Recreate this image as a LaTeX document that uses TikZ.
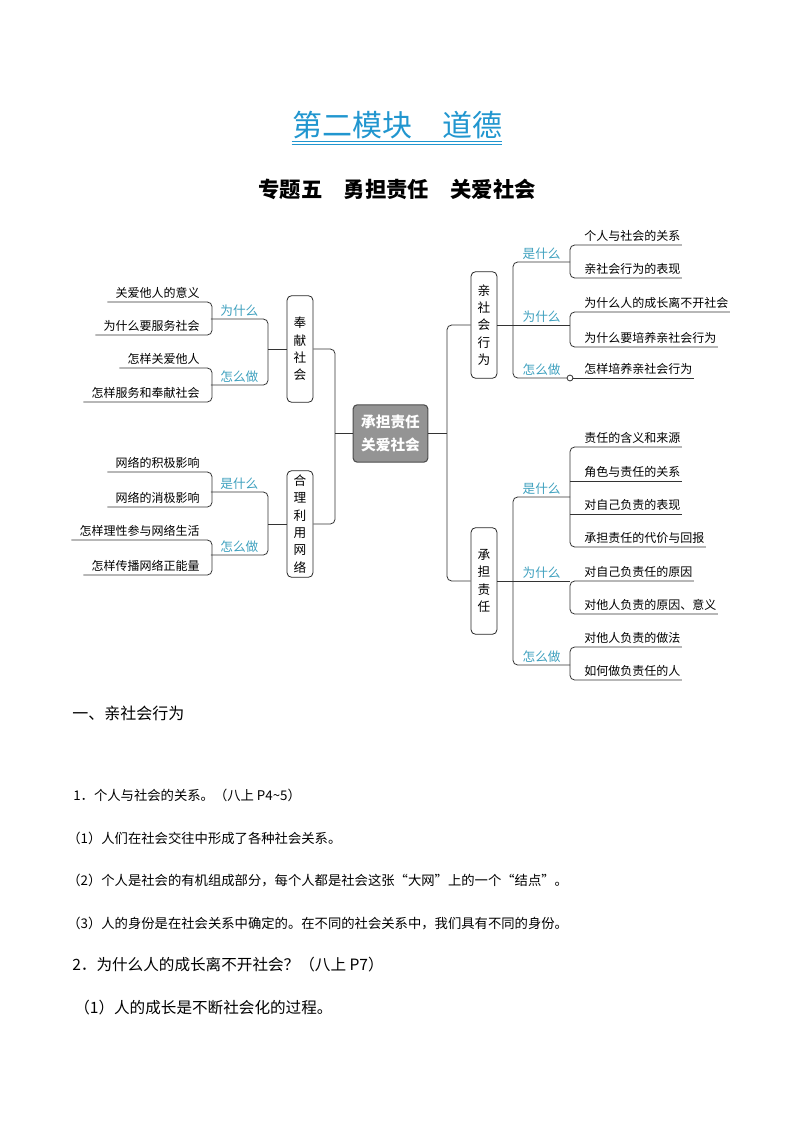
\documentclass[tikz,border=0pt]{standalone}
\usepackage{fontspec}
\setmainfont{Noto Sans CJK SC}

\definecolor{tcyan}{RGB}{33,150,207}
\definecolor{qcyan}{RGB}{62,160,190}
\definecolor{hubgray}{RGB}{148,148,148}

% underlined leaf texts, the underline runs on to the bracket
\newcommand\rleaf[1]{\hspace*{9.5pt}#1}
\newcommand\lleaf[1]{\hspace*{5pt}#1\hspace*{8pt}}

\begin{document}
\begin{tikzpicture}[x=0.75pt,y=-0.75pt,
    hub/.style={draw=black!70, fill=hubgray, rounded corners=3pt, line width=0.8pt,
        text=white, align=center, font=\fontsize{11}{17}\selectfont\bfseries,
        minimum width=56pt, minimum height=43pt},
    topic/.style={draw=black!85, rounded corners=3.5pt, line width=0.6pt, align=center,
        font=\fontsize{9.5}{13}\selectfont, minimum width=19.5pt, minimum height=80pt,
        inner sep=1pt},
    ask/.style={text=qcyan, font=\fontsize{9.5}{11}\selectfont, inner xsep=0pt,
        inner ysep=2pt, minimum width=42.5pt},
    leaf/.style={font=\fontsize{9}{11}\selectfont, inner xsep=1pt, inner ysep=2.5pt},
    wire/.style={draw=black!80, line width=0.6pt, rounded corners=3.5pt},
    body/.style={anchor=west, inner sep=0pt}]

    \useasboundingbox (0,0) rectangle (794,1123);

    % nadpisy
    \node[text=tcyan, font=\fontsize{22.5}{24}\selectfont, inner sep=0pt] (title) at (397,125) {第二模块　道德};
    \draw[tcyan, line width=0.6pt] ([yshift=-3.8pt]title.base west) -- ([yshift=-3.8pt]title.base east);
    \draw[tcyan, line width=0.6pt] ([yshift=-6pt]title.base west) -- ([yshift=-6pt]title.base east);
    \node[font=\fontsize{16}{18}\selectfont\bfseries] (sub) at (397,189) {专题五　勇担责任　关爱社会};

    % střed
    \node[hub] (hub) at (390.5,433.5) {承担责任\\关爱社会};
    \coordinate (jl) at (335,433.5);
    \coordinate (jr) at (447,433.5);

    % čtyři témata
    \node[topic] (fx) at (300,349) {奉\\献\\社\\会};
    \node[topic] (hw) at (300,524) {合\\理\\利\\用\\网\\络};
    \node[topic] (qs) at (484,325) {亲\\社\\会\\行\\为};
    \node[topic] (cd) at (484,581) {承\\担\\责\\任};

    \draw[wire] (fx.east) -| (jl) |- (hw.east);
    \draw[wire] (jl) -- (hub.west);
    \draw[wire] (qs.west) -| (jr) |- (cd.west);
    \draw[wire] (hub.east) -- (jr);

    % vpravo nahoře
    \node[ask, anchor=south west] (qw1) at (513,262) {是什么};
    \node[ask, anchor=south west] (qw2) at (513,325) {为什么};
    \node[ask, anchor=south west] (qw3) at (513,378) {怎么做};
    \draw[wire] (qw1.south east) -- (qw1.south west) -- (qw3.south west) -- (qw3.south east);
    \draw[wire] (qs.east) -- (qw2.south east);

    \node[leaf, anchor=south west] (a1) at (570,245) {\rleaf{个人与社会的关系}};
    \node[leaf, anchor=south west] (a2) at (570,278) {\rleaf{亲社会行为的表现}};
    \node[leaf, anchor=south west] (a3) at (570,312) {\rleaf{为什么人的成长离不开社会}};
    \node[leaf, anchor=south west] (a4) at (570,347) {\rleaf{为什么要培养亲社会行为}};
    \node[leaf, anchor=south west] (a5) at (570,378) {\rleaf{怎样培养亲社会行为}};
    \draw[wire] (a1.south east) -- (a1.south west) -- (a2.south west) -- (a2.south east);
    \draw[wire] (a3.south east) -- (a3.south west) -- (a4.south west) -- (a4.south east);
    \draw[wire] (a5.south west) -- (a5.south east);
    \draw[wire, fill=white] (a5.south west) circle (2.2pt);

    % vpravo dole
    \node[ask, anchor=south west] (qw4) at (513,497) {是什么};
    \node[ask, anchor=south west] (qw5) at (513,581) {为什么};
    \node[ask, anchor=south west] (qw6) at (513,665) {怎么做};
    \draw[wire] (qw4.south east) -- (qw4.south west) -- (qw6.south west) -- (qw6.south east);
    \draw[wire] (cd.east) -- (qw5.south east);

    \node[leaf, anchor=south west] (b1) at (570,447) {\rleaf{责任的含义和来源}};
    \node[leaf, anchor=south west] (b2) at (570,481) {\rleaf{角色与责任的关系}};
    \node[leaf, anchor=south west] (b3) at (570,514) {\rleaf{对自己负责的表现}};
    \node[leaf, anchor=south west] (b4) at (570,547) {\rleaf{承担责任的代价与回报}};
    \node[leaf, anchor=south west] (b5) at (570,581) {\rleaf{对自己负责任的原因}};
    \node[leaf, anchor=south west] (b6) at (570,614) {\rleaf{对他人负责的原因、意义}};
    \node[leaf, anchor=south west] (b7) at (570,647) {\rleaf{对他人负责的做法}};
    \node[leaf, anchor=south west] (b8) at (570,680) {\rleaf{如何做负责任的人}};
    \draw[wire] (b1.south east) -- (b1.south west) -- (b4.south west) -- (b4.south east);
    \draw[wire] (b2.south west) -- (b2.south east);
    \draw[wire] (b3.south west) -- (b3.south east);
    \draw[wire] (b5.south east) -- (b5.south west) -- (b6.south west) -- (b6.south east);
    \draw[wire] (b7.south east) -- (b7.south west) -- (b8.south west) -- (b8.south east);

    % vlevo nahoře
    \node[ask, anchor=south east] (fw1) at (268,319) {为什么};
    \node[ask, anchor=south east] (fw2) at (268,385) {怎么做};
    \draw[wire] (fw1.south west) -- (fw1.south east) -- (fw2.south east) -- (fw2.south west);
    \draw[wire] (fx.west) -- (fx.west -| fw1.south east);

    \node[leaf, anchor=south east] (c1) at (212,302) {\lleaf{关爱他人的意义}};
    \node[leaf, anchor=south east] (c2) at (212,335) {\lleaf{为什么要服务社会}};
    \node[leaf, anchor=south east] (c3) at (212,368) {\lleaf{怎样关爱他人}};
    \node[leaf, anchor=south east] (c4) at (212,402) {\lleaf{怎样服务和奉献社会}};
    \draw[wire] (c1.south west) -- (c1.south east) -- (c2.south east) -- (c2.south west);
    \draw[wire] (c3.south west) -- (c3.south east) -- (c4.south east) -- (c4.south west);

    % vlevo dole
    \node[ask, anchor=south east] (hw1) at (268,492) {是什么};
    \node[ask, anchor=south east] (hw2) at (268,555) {怎么做};
    \draw[wire] (hw1.south west) -- (hw1.south east) -- (hw2.south east) -- (hw2.south west);
    \draw[wire] (hw.west) -- (hw.west -| hw1.south east);

    \node[leaf, anchor=south east] (d1) at (212,472) {\lleaf{网络的积极影响}};
    \node[leaf, anchor=south east] (d2) at (212,507) {\lleaf{网络的消极影响}};
    \node[leaf, anchor=south east] (d3) at (212,540) {\lleaf{怎样理性参与网络生活}};
    \node[leaf, anchor=south east] (d4) at (212,575) {\lleaf{怎样传播网络正能量}};
    \draw[wire] (d1.south west) -- (d1.south east) -- (d2.south east) -- (d2.south west);
    \draw[wire] (d3.south west) -- (d3.south east) -- (d4.south east) -- (d4.south west);

    % text pod mapou
    \node[body, font=\fontsize{12}{14}\selectfont] (h1) at (72,713) {一、亲社会行为};
    \node[body, font=\fontsize{10}{12}\selectfont] (p1) at (73,795) {1．个人与社会的关系。（八上 P4\textasciitilde5）};
    \node[body, font=\fontsize{10}{12}\selectfont] (p2) at (67,838) {（1）人们在社会交往中形成了各种社会关系。};
    \node[body, font=\fontsize{10}{12}\selectfont] (p3) at (67,880) {（2）个人是社会的有机组成部分，每个人都是社会这张“大网”上的一个“结点”。};
    \node[body, font=\fontsize{10}{12}\selectfont] (p4) at (67,923) {（3）人的身份是在社会关系中确定的。在不同的社会关系中，我们具有不同的身份。};
    \node[body, font=\fontsize{11.7}{13}\selectfont] (p5) at (72,965) {2．为什么人的成长离不开社会？（八上 P7）};
    \node[body, font=\fontsize{11.7}{13}\selectfont] (p6) at (74,1008) {（1）人的成长是不断社会化的过程。};

\end{tikzpicture}
\end{document}
